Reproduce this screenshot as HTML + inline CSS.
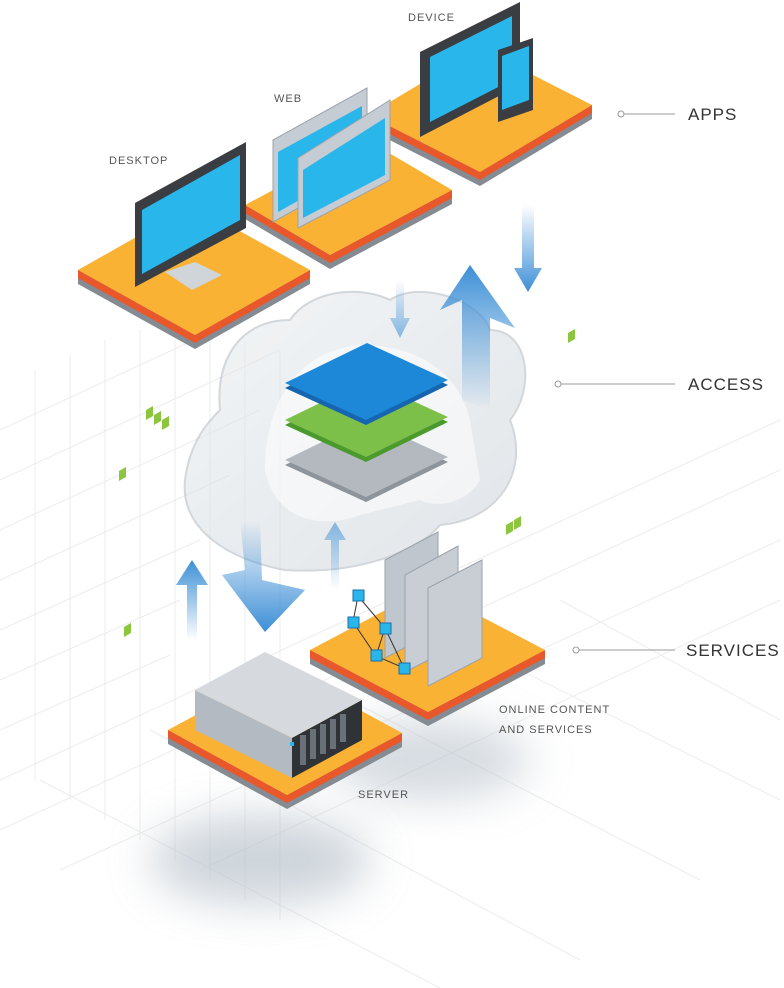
<!DOCTYPE html>
<html><head><meta charset="utf-8"><style>
html,body{margin:0;padding:0;background:#fff;width:784px;height:988px;overflow:hidden}
svg{display:block}
text{font-family:"Liberation Sans",sans-serif;fill:#555}
.sm{font-size:11px;letter-spacing:1px}
.lg{font-size:17px;letter-spacing:1px;fill:#333}
</style></head><body>
<svg width="784" height="988" viewBox="0 0 784 988" xmlns="http://www.w3.org/2000/svg">
<defs>
<filter id="bl" x="-50%" y="-50%" width="200%" height="200%"><feGaussianBlur stdDeviation="22"/></filter>
<linearGradient id="up" x1="0" y1="1" x2="0" y2="0"><stop offset="0" stop-color="#3d8fd6" stop-opacity="0"/><stop offset="1" stop-color="#3d8fd6"/></linearGradient>
<linearGradient id="dn" x1="0" y1="0" x2="0" y2="1"><stop offset="0" stop-color="#3d8fd6" stop-opacity="0"/><stop offset="1" stop-color="#3d8fd6"/></linearGradient>
<linearGradient id="cl" x1="0" y1="0" x2="1" y2="1"><stop offset="0" stop-color="#e9edf0"/><stop offset="1" stop-color="#c9d1d8"/></linearGradient>
</defs>
<g stroke="#ececec" stroke-width="1">
<line x1="35" y1="370" x2="35" y2="780"/><line x1="70" y1="355" x2="70" y2="800"/><line x1="105" y1="340" x2="105" y2="820"/><line x1="140" y1="330" x2="140" y2="840"/><line x1="175" y1="320" x2="175" y2="860"/><line x1="210" y1="330" x2="210" y2="880"/><line x1="245" y1="340" x2="245" y2="900"/><line x1="280" y1="350" x2="280" y2="920"/>
<line x1="0" y1="430" x2="280" y2="300"/><line x1="0" y1="480" x2="280" y2="350"/><line x1="0" y1="530" x2="260" y2="410"/><line x1="0" y1="580" x2="230" y2="475"/><line x1="0" y1="630" x2="200" y2="540"/><line x1="0" y1="680" x2="180" y2="600"/><line x1="0" y1="730" x2="170" y2="655"/><line x1="0" y1="780" x2="780" y2="420"/><line x1="0" y1="830" x2="780" y2="470"/><line x1="60" y1="870" x2="780" y2="540"/><line x1="200" y1="870" x2="780" y2="600"/>
<line x1="40" y1="780" x2="440" y2="988"/><line x1="150" y1="730" x2="580" y2="960"/><line x1="330" y1="690" x2="700" y2="880"/><line x1="480" y1="650" x2="780" y2="800"/><line x1="560" y1="600" x2="780" y2="720"/>
</g>
<ellipse cx="260" cy="860" rx="110" ry="45" fill="#b9c3cc" filter="url(#bl)" opacity=".7"/>
<ellipse cx="430" cy="760" rx="100" ry="40" fill="#b9c3cc" filter="url(#bl)" opacity=".6"/>
<g>
<polygon points="368,115 480,172 592,105 592,119 480,186 368,129" fill="#858b93"/>
<polygon points="368,115 480,172 592,105 592,113 480,180 368,123" fill="#e8582b"/>
<polygon points="368,115 480,172 592,105 480,48" fill="#f9b234"/>
<polygon points="245,205 330,255 452,190 452,204 330,269 245,219" fill="#858b93"/>
<polygon points="245,205 330,255 452,190 452,198 330,263 245,213" fill="#e8582b"/>
<polygon points="245,205 330,255 452,190 367,140" fill="#f9b234"/>
<polygon points="78,270 195,335 310,270 310,284 195,349 78,284" fill="#858b93"/>
<polygon points="78,270 195,335 310,270 310,278 195,343 78,278" fill="#e8582b"/>
<polygon points="78,270 195,335 310,270 193,205" fill="#f9b234"/>
<polygon points="310,650 428,712 545,650 545,664 428,726 310,664" fill="#858b93"/>
<polygon points="310,650 428,712 545,650 545,658 428,720 310,658" fill="#e8582b"/>
<polygon points="310,650 428,712 545,650 427,588" fill="#f9b234"/>
<polygon points="168,730 287,795 402,733 402,747 287,809 168,744" fill="#858b93"/>
<polygon points="168,730 287,795 402,733 402,741 287,803 168,738" fill="#e8582b"/>
<polygon points="168,730 287,795 402,733 283,668" fill="#f9b234"/>
</g>
<polygon points="420,52 520,2 520,85 420,137" fill="#3a3d42"/>
<polygon points="430,57 512,16 512,80 430,122" fill="#29b6ea"/>
<polygon points="498,50 533,38 533,110 498,122" fill="#3a3d42"/>
<polygon points="502,56 529,46 529,100 502,110" fill="#29b6ea"/>
<polygon points="273,140 367,88 367,170 273,222" fill="#c5ccd4" stroke="#9aa3ad"/>
<polygon points="278,152 362,106 362,165 278,212" fill="#29b6ea"/>
<polygon points="298,158 390,100 390,180 298,228" fill="#c5ccd4" stroke="#9aa3ad"/>
<polygon points="303,170 385,118 385,175 303,218" fill="#29b6ea"/>
<polygon points="165,272 195,262 222,275 192,290" fill="#d0d5da"/>
<polygon points="135,203 246,142 246,228 135,287" fill="#3a3d42"/>
<polygon points="142,210 240,155 240,220 142,274" fill="#29b6ea"/>
<path d="M285,570 C230,560 180,530 185,480 C190,440 210,420 220,410 C215,360 240,320 290,320 C310,290 360,285 390,300 C420,280 480,300 490,330 C530,330 535,390 510,420 C530,470 500,520 440,525 C420,550 360,575 285,570 Z" fill="url(#cl)" opacity=".55" stroke="#aeb7c0" stroke-width="2"/>
<path d="M265,470 C265,400 300,350 360,345 C420,345 460,375 470,420 L480,480 C470,500 440,510 420,500 L360,515 C320,530 275,520 265,470 Z" fill="#fff" opacity=".5"/>
<polygon points="285,465 367,425 448,462 366,502" fill="#8e949b"/>
<polygon points="285,460 367,420 448,457 366,497" fill="#b4b9bf"/>
<polygon points="285,425 367,385 448,422 366,462" fill="#4a9a2e"/>
<polygon points="285,420 367,380 448,417 366,457" fill="#7cc04a"/>
<polygon points="285,388 367,348 448,385 366,425" fill="#1565b0"/>
<polygon points="285,383 367,343 448,380 366,420" fill="#1e88d8"/>
<polygon points="522,205 534,205 534,268 542,268 528,292 514,268 522,268" fill="url(#dn)"/>
<polygon points="396,280 404,280 404,318 410,318 400,338 390,318 396,318" fill="url(#dn)" opacity=".6"/>
<polygon points="462,400 462,300 440,310 470,265 515,328 490,318 490,410" fill="url(#up)"/>
<polygon points="240,520 260,520 262,580 305,590 265,632 222,575 245,570" fill="url(#dn)"/>
<polygon points="187,640 197,640 197,585 208,585 192,560 176,585 187,585" fill="url(#up)"/>
<polygon points="331,590 339,590 339,540 346,540 335,522 324,540 331,540" fill="url(#up)" opacity=".6"/>
<polygon points="385,560 438,532 438,630 385,658" fill="#c0c6cd" stroke="#9aa3ad"/>
<polygon points="405,575 458,546 458,645 405,672" fill="#c9ced4" stroke="#9aa3ad"/>
<polygon points="428,588 482,560 482,658 428,686" fill="#c9ced4" stroke="#9aa3ad"/>
<g stroke="#333" stroke-width="1"><line x1="358" y1="596" x2="353" y2="622"/><line x1="358" y1="596" x2="385" y2="628"/><line x1="353" y1="622" x2="376" y2="656"/><line x1="385" y1="628" x2="376" y2="656"/><line x1="376" y1="656" x2="404" y2="668"/><line x1="385" y1="628" x2="404" y2="668"/></g>
<g fill="#29b6ea" stroke="#1a6fa8"><rect x="353" y="590" width="11" height="11"/><rect x="348" y="617" width="11" height="11"/><rect x="380" y="623" width="11" height="11"/><rect x="371" y="650" width="11" height="11"/><rect x="399" y="663" width="11" height="11"/></g>
<polygon points="195,690 265,652 362,700 292,738" fill="#d6dade"/>
<polygon points="195,690 292,738 292,778 195,730" fill="#b4bac1"/>
<polygon points="292,738 362,700 362,740 292,778" fill="#2f3236"/>
<g fill="#6a7078"><rect x="300" y="735" width="6" height="30"/><rect x="310" y="729" width="6" height="30"/><rect x="320" y="724" width="6" height="30"/><rect x="330" y="719" width="6" height="30"/><rect x="340" y="714" width="6" height="28"/></g>
<rect x="290" y="742" width="4" height="4" fill="#29b6ea"/>
<g fill="#8cc63f"><polygon points="568,333 575,329 575,339 568,343"/><polygon points="146,410 153,406 153,416 146,420"/><polygon points="154,415 161,411 161,421 154,425"/><polygon points="162,420 169,416 169,426 162,430"/><polygon points="119,471 126,467 126,477 119,481"/><polygon points="506,525 513,521 513,531 506,535"/><polygon points="514,520 521,516 521,526 514,530"/><polygon points="124,627 131,623 131,633 124,637"/></g>
<text class="sm" x="408" y="21">DEVICE</text>
<text class="sm" x="274" y="102">WEB</text>
<text class="sm" x="109" y="164">DESKTOP</text>
<text class="sm" x="499" y="713">ONLINE CONTENT</text>
<text class="sm" x="499" y="733">AND SERVICES</text>
<text class="sm" x="358" y="798">SERVER</text>
<g stroke="#999" fill="#fff"><line x1="624" y1="114" x2="675" y2="114"/><circle cx="621" cy="114" r="3"/><line x1="561" y1="384" x2="675" y2="384"/><circle cx="558" cy="384" r="3"/><line x1="579" y1="650" x2="675" y2="650"/><circle cx="576" cy="650" r="3"/></g>
<text class="lg" x="688" y="120">APPS</text>
<text class="lg" x="688" y="390">ACCESS</text>
<text class="lg" x="686" y="656">SERVICES</text>
</svg>
</body></html>
